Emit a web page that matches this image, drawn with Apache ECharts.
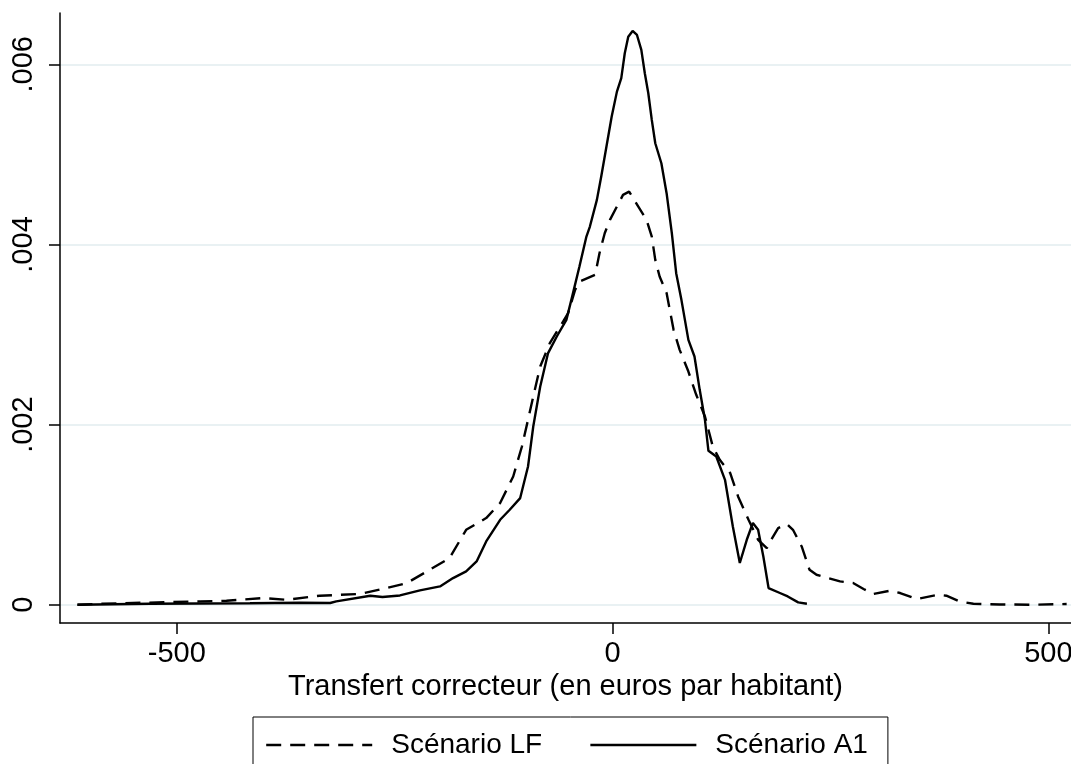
<!DOCTYPE html>
<html>
<head>
<meta charset="utf-8">
<script src="https://cdn.jsdelivr.net/npm/echarts@6/dist/echarts.min.js"></script>
<style>
  html, body { margin: 0; padding: 0; background: #ffffff; }
  #chart { width: 1071px; height: 764px; }
</style>
</head>
<body>
<div id="chart"></div>
<script>
// Scénario LF (dashed)
const lfX = [-614, -585, -473, -443, -401, -374, -336, -290, -259, -236, -213, -187, -168, -145, -129, -114, -104, -97, -91, -83, -72, -59, -51, -43, -38, -20, -15, -9, -3, 5, 12, 19, 26, 39, 45, 49, 54, 62, 70, 77, 87, 96, 106, 115, 123, 135, 144, 156, 167, 177, 182, 190, 200, 207, 217, 226, 234, 261, 276, 288, 299, 318, 330, 349, 374, 383, 398, 414, 444, 482, 521];
const lfY = [0, 0.000011, 0.000037, 0.000044, 0.000074, 0.000055, 0.0001, 0.000119, 0.000185, 0.000241, 0.00037, 0.000518, 0.000832, 0.000962, 0.001129, 0.001424, 0.001757, 0.002053, 0.002312, 0.002645, 0.002905, 0.003108, 0.003237, 0.003496, 0.003588, 0.003663, 0.003903, 0.004125, 0.004273, 0.004421, 0.004551, 0.004587, 0.004476, 0.004273, 0.004088, 0.003829, 0.003644, 0.00346, 0.003052, 0.00283, 0.002589, 0.002331, 0.00209, 0.001757, 0.001609, 0.001462, 0.001202, 0.000943, 0.000721, 0.000629, 0.000721, 0.000851, 0.000896, 0.000832, 0.000647, 0.000388, 0.000333, 0.000259, 0.000241, 0.000174, 0.000119, 0.000155, 0.00013, 0.000063, 0.000111, 0.0001, 0.000037, 0.000011, 0.000003, 0, 0.000008];

// Scénario A1 (solid)
const a1X = [-614, -531, -416, -359, -324, -317, -278, -264, -244, -221, -198, -183, -168, -156, -145, -129, -118, -106, -97, -91, -83, -74, -64, -53, -47, -38, -30, -26, -18, -13, -7, -1, 5, 10, 14, 18, 23, 28, 33, 37, 41, 45, 49, 56, 62, 68, 73, 79, 87, 94, 100, 106, 110, 119, 129, 138, 146, 154, 161, 167, 173, 179, 192, 201, 213, 223];
const a1Y = [0, 0.00001, 0.000017, 0.000022, 0.000019, 0.000037, 0.0001, 0.000085, 0.000103, 0.000159, 0.000203, 0.000296, 0.00037, 0.00048, 0.000703, 0.000943, 0.001054, 0.001184, 0.001535, 0.001979, 0.002423, 0.002794, 0.002978, 0.003163, 0.003396, 0.003755, 0.004088, 0.004199, 0.004495, 0.004754, 0.005087, 0.00542, 0.005697, 0.005846, 0.006123, 0.006307, 0.006371, 0.006326, 0.00616, 0.005901, 0.005679, 0.005383, 0.005124, 0.004902, 0.004569, 0.004125, 0.003681, 0.003385, 0.002941, 0.002756, 0.002386, 0.002053, 0.001709, 0.001646, 0.001387, 0.000869, 0.000463, 0.000721, 0.000907, 0.000832, 0.000536, 0.000185, 0.00013, 0.000092, 0.000026, 0.000011];

const xTicks = [-500, 0, 500];
const yTicks = [0, 0.002, 0.004, 0.006];
const xTitle = 'Transfert correcteur (en euros par habitant)';
const seriesNames = ['Scénario LF', 'Scénario A1'];

const pairs = (xs, ys) => xs.map((x, i) => [x, ys[i]]);
const FONT = "Arial, 'Liberation Sans', sans-serif";
const FS = 29;
const LFS = 28;
const DASH = [15, 9];

const chart = echarts.init(document.getElementById('chart'), null, { renderer: 'canvas' });
chart.setOption({
  animation: false,
  backgroundColor: '#ffffff',
  textStyle: { fontFamily: FONT },
  grid: { left: 60, right: 0, top: 13, bottom: 141, containLabel: false, outerBoundsMode: 'none' },
  xAxis: {
    type: 'value',
    min: -634,
    max: 526,
    name: xTitle,
    nameLocation: 'middle',
    nameGap: 48,
    nameTextStyle: { color: '#000', fontSize: FS, fontFamily: FONT },
    axisLine: { show: true, onZero: false, lineStyle: { color: '#000', width: 1.5 } },
    axisTick: { show: true, customValues: xTicks, length: 11, lineStyle: { color: '#000', width: 1.5 } },
    axisLabel: { customValues: xTicks, color: '#000', fontSize: FS, fontFamily: FONT, margin: 16,
      formatter: v => String(v) },
    splitLine: { show: false }
  },
  yAxis: {
    type: 'value',
    min: -0.000203,
    max: 0.00657,
    axisLine: { show: true, onZero: false, lineStyle: { color: '#000', width: 1.5 } },
    axisTick: { show: true, customValues: yTicks, length: 11, lineStyle: { color: '#000', width: 1.5 } },
    axisLabel: { customValues: yTicks, color: '#000', fontSize: FS, fontFamily: FONT, rotate: 90, margin: 22,
      formatter: v => v === 0 ? '0' : String(+v.toFixed(3)).replace(/^0\./, '.') },
    splitLine: { show: true, lineStyle: { color: '#e9f1f3', width: 2 } }
  },
  legend: {
    left: 253,
    top: 717,
    orient: 'horizontal',
    borderColor: '#000',
    borderWidth: 1,
    padding: [14, 20, 24, 12],
    itemWidth: 106,
    itemHeight: 28,
    itemGap: 47,
    itemStyle: { opacity: 0 },
    textStyle: { color: '#000', fontSize: LFS, fontFamily: FONT, padding: [0, 0, 0, 14] },
    data: [
      { name: seriesNames[0], itemStyle: { opacity: 0 }, lineStyle: { type: DASH, width: 2.4, color: '#000' } },
      { name: seriesNames[1], itemStyle: { opacity: 0 }, lineStyle: { type: 'solid', width: 2.4, color: '#000' } }
    ]
  },
  series: [
    {
      name: seriesNames[0],
      type: 'line',
      data: pairs(lfX, lfY),
      symbol: 'none',
      smooth: false,
      lineStyle: { color: '#000', width: 2.4, type: DASH },
      itemStyle: { color: '#000' }
    },
    {
      name: seriesNames[1],
      type: 'line',
      data: pairs(a1X, a1Y),
      symbol: 'none',
      smooth: false,
      lineStyle: { color: '#000', width: 2.4, type: 'solid' },
      itemStyle: { color: '#000' }
    }
  ]
});
</script>
</body>
</html>
